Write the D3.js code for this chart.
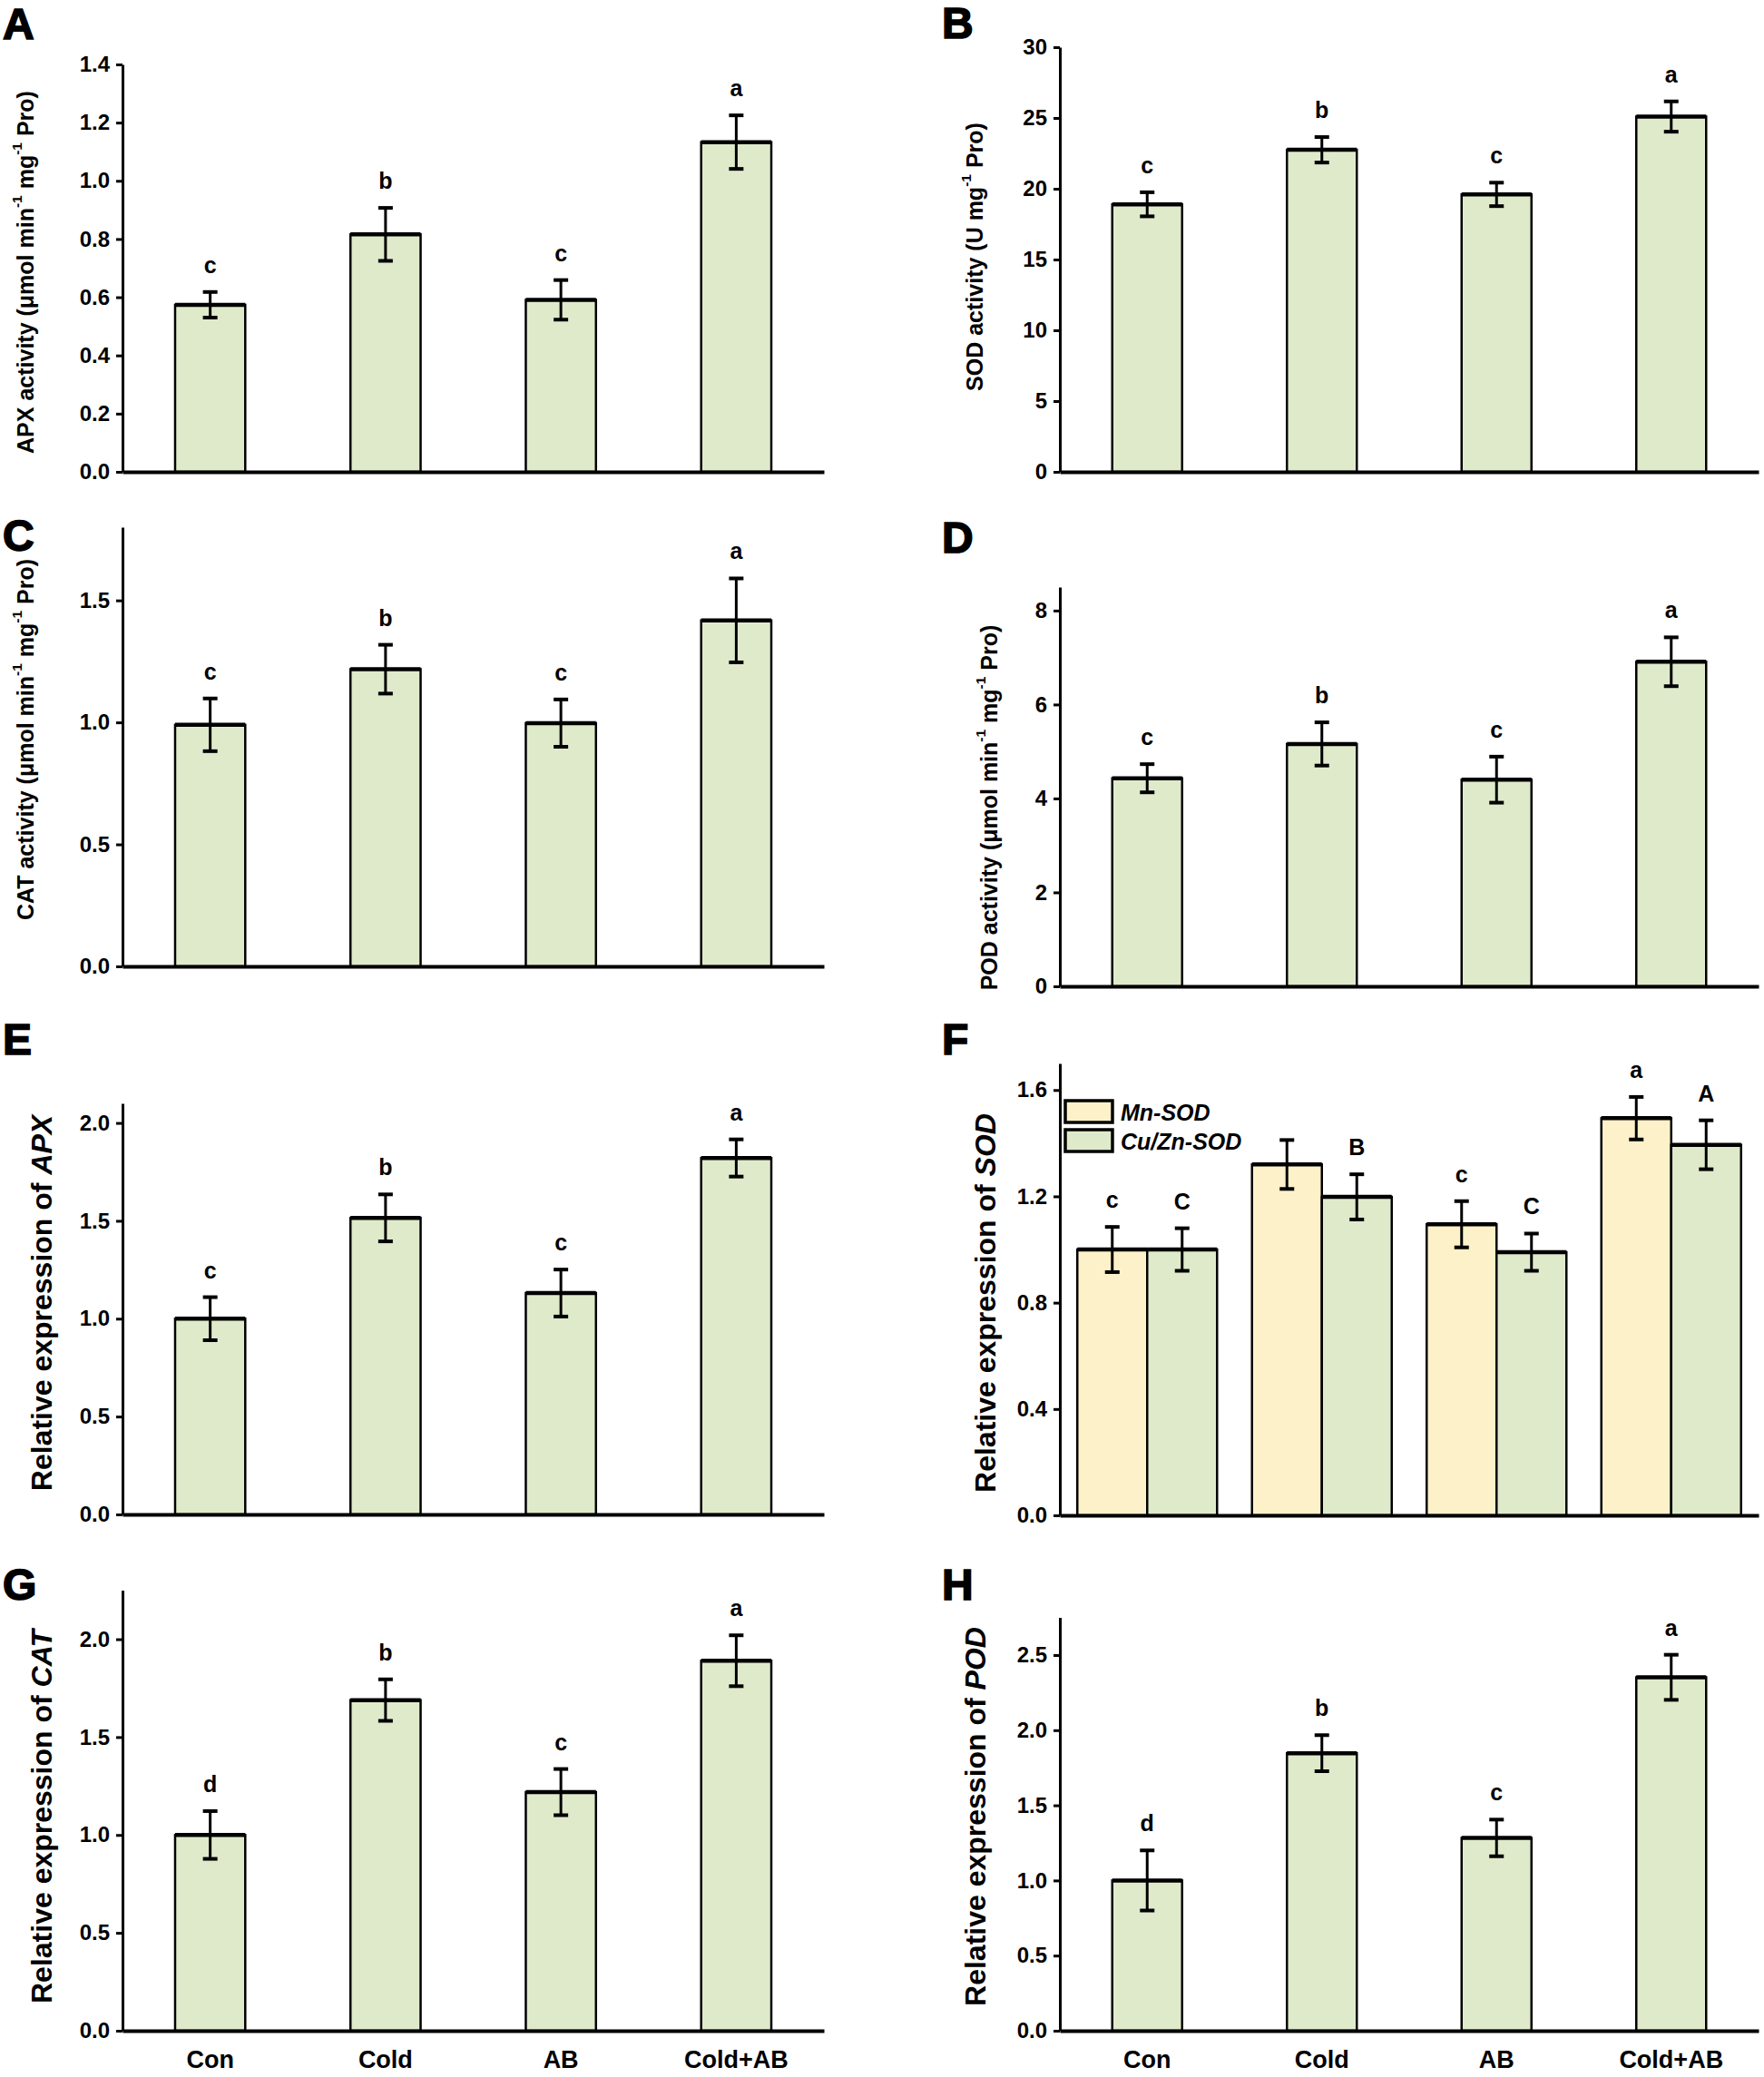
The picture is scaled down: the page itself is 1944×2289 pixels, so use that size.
<!DOCTYPE html>
<html><head><meta charset="utf-8">
<script src="https://cdn.jsdelivr.net/npm/d3@7"></script>
<style>
body{margin:0;background:#fff}
svg{display:block}
text{font-family:"Liberation Sans",Arial,Helvetica,sans-serif;font-weight:bold;fill:#000}
</style>
</head><body>
<svg id="chart" width="1944" height="2289"></svg>
<script>
// ---------------- DATA ----------------
const categories = ["Con", "Cold", "AB", "Cold+AB"];

// A: APX activity
const apxActivity = [0.574, 0.816, 0.591, 1.133];
const apxActivityErr = [0.044, 0.091, 0.068, 0.092];
const apxActivityLetters = ["c", "b", "c", "a"];
const apxActivityTicks = [0, 0.2, 0.4, 0.6, 0.8, 1.0, 1.2, 1.4];

// B: SOD activity
const sodActivity = [18.9, 22.75, 19.6, 25.1];
const sodActivityErr = [0.85, 0.9, 0.83, 1.07];
const sodActivityLetters = ["c", "b", "c", "a"];
const sodActivityTicks = [0, 5, 10, 15, 20, 25, 30];

// C: CAT activity
const catActivity = [0.99, 1.218, 0.997, 1.418];
const catActivityErr = [0.108, 0.1, 0.097, 0.172];
const catActivityLetters = ["c", "b", "c", "a"];
const catActivityTicks = [0, 0.5, 1.0, 1.5];

// D: POD activity
const podActivity = [4.43, 5.16, 4.40, 6.91];
const podActivityErr = [0.30, 0.46, 0.49, 0.52];
const podActivityLetters = ["c", "b", "c", "a"];
const podActivityTicks = [0, 2, 4, 6, 8];

// E: APX expression
const apxExpr = [1.0, 1.515, 1.131, 1.821];
const apxExprErr = [0.11, 0.12, 0.12, 0.095];
const apxExprLetters = ["c", "b", "c", "a"];
const apxExprTicks = [0, 0.5, 1.0, 1.5, 2.0];

// F: SOD expression (two series)
const sodSeries = ["Mn-SOD", "Cu/Zn-SOD"];
const mnSodExpr = [1.0, 1.32, 1.095, 1.494];
const mnSodErr = [0.085, 0.092, 0.087, 0.08];
const mnSodLetters = ["c", "", "c", "a"];
const cuznSodExpr = [1.0, 1.198, 0.99, 1.394];
const cuznSodErr = [0.08, 0.085, 0.07, 0.092];
const cuznSodLetters = ["C", "B", "C", "A"];
const sodExprTicks = [0, 0.4, 0.8, 1.2, 1.6];

// G: CAT expression
const catExpr = [1.0, 1.689, 1.219, 1.89];
const catExprErr = [0.122, 0.106, 0.118, 0.13];
const catExprLetters = ["d", "b", "c", "a"];
const catExprTicks = [0, 0.5, 1.0, 1.5, 2.0];

// H: POD expression
const podExpr = [1.0, 1.847, 1.283, 2.352];
const podExprErr = [0.2, 0.12, 0.122, 0.15];
const podExprLetters = ["d", "b", "c", "a"];
const podExprTicks = [0, 0.5, 1.0, 1.5, 2.0, 2.5];

// ---------------- STYLE ----------------
const GREEN = "#DFEACB";
const YELLOW = "#FDF1C9";
const svg = d3.select("#chart");

const L = {x0: 135, x1: 908};
const R = {x0: 1168, x1: 1938};

const panels = [
  {id:"A", side:L, yTop:71, y0:520, yMax:1.4, ticks:apxActivityTicks, fmt:d3.format(".1f"),
   series:[{v:apxActivity, e:apxActivityErr, l:apxActivityLetters, c:GREEN}],
   title:[["APX activity (μmol min"],["-1",1],[" mg"],["-1",1],[" Pro)"]], tsize:25, tx:28, ty:300,
   lx:3, ly:43},
  {id:"B", side:R, yTop:52, y0:520, yMax:30, ticks:sodActivityTicks, fmt:d3.format("d"),
   series:[{v:sodActivity, e:sodActivityErr, l:sodActivityLetters, c:GREEN}],
   title:[["SOD activity (U mg"],["-1",1],[" Pro)"]], tsize:25, tx:1074, ty:283,
   lx:1038, ly:42},
  {id:"C", side:L, yTop:581, y0:1065, yMax:1.8, ticks:catActivityTicks, fmt:d3.format(".1f"),
   series:[{v:catActivity, e:catActivityErr, l:catActivityLetters, c:GREEN}],
   title:[["CAT activity (μmol min"],["-1",1],[" mg"],["-1",1],[" Pro)"]], tsize:25, tx:28, ty:815,
   lx:3, ly:607},
  {id:"D", side:R, yTop:647, y0:1087, yMax:8.5, ticks:podActivityTicks, fmt:d3.format("d"),
   series:[{v:podActivity, e:podActivityErr, l:podActivityLetters, c:GREEN}],
   title:[["POD activity (μmol min"],["-1",1],[" mg"],["-1",1],[" Pro)"]], tsize:25, tx:1090, ty:890,
   lx:1038, ly:609},
  {id:"E", side:L, yTop:1216, y0:1669, yMax:2.1, ticks:apxExprTicks, fmt:d3.format(".1f"),
   series:[{v:apxExpr, e:apxExprErr, l:apxExprLetters, c:GREEN}],
   title:[["Relative expression of "],["APX",2]], tsize:32, tx:46, ty:1436,
   lx:3, ly:1162},
  {id:"F", side:R, yTop:1172, y0:1670, yMax:1.7, ticks:sodExprTicks, fmt:d3.format(".1f"),
   series:[{v:mnSodExpr, e:mnSodErr, l:mnSodLetters, c:YELLOW},
           {v:cuznSodExpr, e:cuznSodErr, l:cuznSodLetters, c:GREEN}],
   title:[["Relative expression of "],["SOD",2]], tsize:32, tx:1086, ty:1436,
   lx:1038, ly:1162, legend:true},
  {id:"G", side:L, yTop:1752.6, y0:2238, yMax:2.25, ticks:catExprTicks, fmt:d3.format(".1f"),
   series:[{v:catExpr, e:catExprErr, l:catExprLetters, c:GREEN}],
   title:[["Relative expression of "],["CAT",2]], tsize:32, tx:46, ty:2002,
   lx:3, ly:1763, xlabels:true},
  {id:"H", side:R, yTop:1782.6, y0:2238, yMax:2.75, ticks:podExprTicks, fmt:d3.format(".1f"),
   series:[{v:podExpr, e:podExprErr, l:podExprLetters, c:GREEN}],
   title:[["Relative expression of "],["POD",2]], tsize:32, tx:1075, ty:2002,
   lx:1038, ly:1763, xlabels:true}
];

function drawPanel(p) {
  const g = svg.append("g").attr("class", "panel-" + p.id);
  const x = d3.scaleBand().domain(categories).range([p.side.x0, p.side.x1]);
  const y = d3.scaleLinear().domain([0, p.yMax]).range([p.y0, p.yTop]);
  const multi = p.series.length > 1;
  if (multi) x.paddingInner(0.2).paddingOuter(0.1);
  else x.paddingInner(0.6).paddingOuter(0.3);
  const sub = d3.scaleBand().domain(d3.range(p.series.length)).range([0, x.bandwidth()]);

  // Y axis
  const ya = g.append("g").attr("transform", `translate(${p.side.x0},0)`)
    .call(d3.axisLeft(y).tickValues(p.ticks).tickFormat(p.fmt).tickSize(7).tickSizeOuter(0).tickPadding(7));
  ya.select(".domain").attr("stroke", "#000").attr("stroke-width", 3);
  ya.selectAll(".tick line").attr("stroke", "#000").attr("stroke-width", 3);
  ya.selectAll(".tick text").attr("font-size", 24).attr("font-family", null).attr("fill", "#000");

  // Bars
  p.series.forEach((s, si) => {
    const bx = c => x(c) + sub(si);
    const bw = sub.bandwidth();
    const gs = g.append("g");
    gs.selectAll("rect").data(categories).join("rect")
      .attr("x", c => bx(c)).attr("width", bw)
      .attr("y", (c, i) => y(s.v[i])).attr("height", (c, i) => y(0) - y(s.v[i]))
      .attr("fill", s.c).attr("stroke", "#000").attr("stroke-width", 2.5);
    gs.selectAll("line.top").data(categories).join("line").attr("class", "top")
      .attr("x1", c => bx(c)).attr("x2", c => bx(c) + bw)
      .attr("y1", (c, i) => y(s.v[i])).attr("y2", (c, i) => y(s.v[i]))
      .attr("stroke", "#000").attr("stroke-width", 4.5);
    // error bars
    const cx = c => bx(c) + bw / 2;
    gs.selectAll("line.stem").data(categories).join("line").attr("class", "stem")
      .attr("x1", cx).attr("x2", cx)
      .attr("y1", (c, i) => y(s.v[i] + s.e[i])).attr("y2", (c, i) => y(s.v[i] - s.e[i]))
      .attr("stroke", "#000").attr("stroke-width", 3);
    ["t", "b"].forEach(k => {
      const val = i => k === "t" ? s.v[i] + s.e[i] : s.v[i] - s.e[i];
      gs.selectAll("line.cap" + k).data(categories).join("line")
        .attr("class", "cap" + k)
        .attr("x1", c => cx(c) - 8).attr("x2", c => cx(c) + 8)
        .attr("y1", (c, i) => y(val(i))).attr("y2", (c, i) => y(val(i)))
        .attr("stroke", "#000").attr("stroke-width", 4);
    });
    // significance letters
    gs.selectAll("text.sig").data(categories).join("text").attr("class", "sig")
      .attr("x", cx).attr("y", (c, i) => y(s.v[i] + s.e[i]) - 21)
      .attr("text-anchor", "middle").attr("font-size", 25)
      .text((c, i) => s.l[i]);
  });

  // X axis
  const xa = g.append("g").attr("transform", `translate(0,${p.y0})`)
    .call(d3.axisBottom(x).tickSize(0).tickSizeOuter(0).tickPadding(22)
      .tickFormat(p.xlabels ? (d => d) : () => ""));
  xa.select(".domain").attr("stroke", "#000").attr("stroke-width", 4);
  xa.selectAll(".tick text").attr("font-size", 27).attr("font-family", null).attr("fill", "#000");

  // Y title
  const t = g.append("text").attr("transform", `translate(${p.tx},${p.ty}) rotate(-90)`)
    .attr("text-anchor", "middle").attr("dominant-baseline", "central").attr("font-size", p.tsize);
  let shifted = false;
  p.title.forEach(([txt, kind]) => {
    const ts = t.append("tspan").text(txt);
    if (kind === 1) { ts.attr("font-size", p.tsize * 0.62).attr("dy", -p.tsize * 0.42); shifted = true; }
    else if (shifted) { ts.attr("dy", p.tsize * 0.42); shifted = false; }
    if (kind === 2) ts.attr("font-style", "italic");
  });

  // Panel letter
  g.append("text").attr("x", p.lx).attr("y", p.ly).attr("font-size", 48)
    .attr("stroke", "#000").attr("stroke-width", 1.6).text(p.id);

  // Legend
  if (p.legend) {
    const lg = g.append("g");
    const items = sodSeries.map((name, i) => ({name, c: p.series[i].c}));
    lg.selectAll("rect").data(items).join("rect")
      .attr("x", 1174).attr("y", (d, i) => 1213 + i * 32).attr("width", 52).attr("height", 24)
      .attr("fill", d => d.c).attr("stroke", "#000").attr("stroke-width", 3.5);
    lg.selectAll("text").data(items).join("text")
      .attr("x", 1235).attr("y", (d, i) => 1235 + i * 32).attr("font-size", 25)
      .attr("font-style", "italic").text(d => d.name);
  }
}

panels.forEach(drawPanel);
</script>
</body></html>
